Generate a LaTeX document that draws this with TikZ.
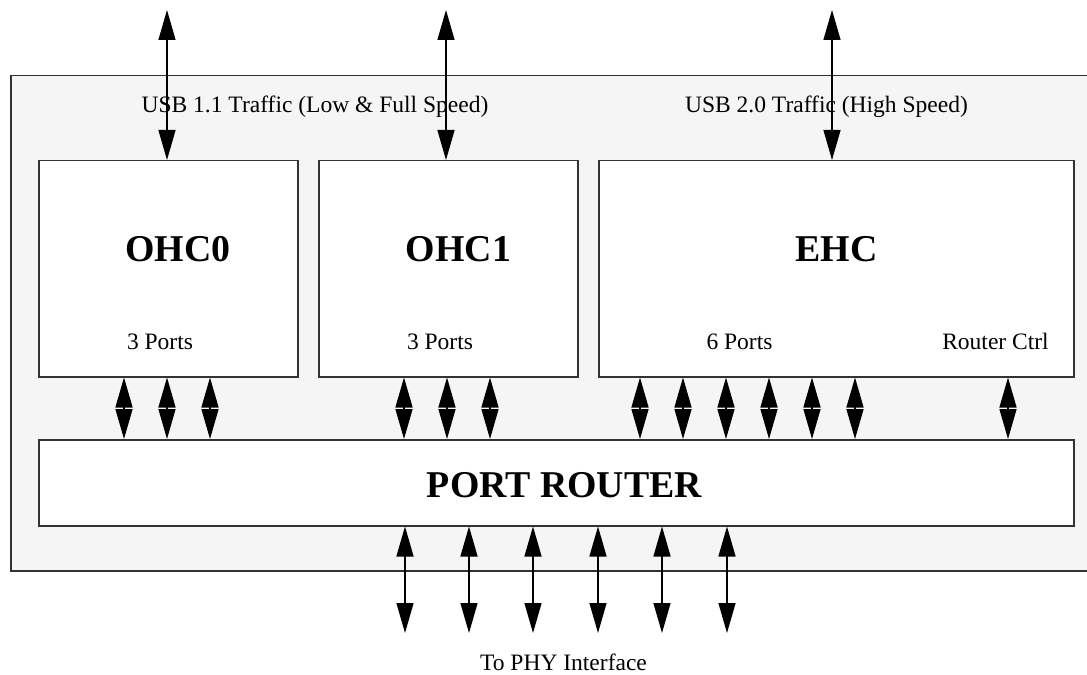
\documentclass[tikz,border=0pt]{standalone}
\usepackage{fontspec}
\setmainfont{Liberation Serif}
\usetikzlibrary{arrows.meta}
\definecolor{boxline}{HTML}{333333}
\definecolor{bgfill}{HTML}{F5F5F5}
\begin{document}
\begin{tikzpicture}[x=1bp,y=-1bp,
  box/.style={draw=boxline,line width=1.5bp,fill=white,anchor=north west,inner sep=0pt},
  lbl/.style={anchor=base,inner sep=0pt,font=\fontsize{23.6}{28}\selectfont},
  ttl/.style={anchor=base,inner sep=0pt,font=\fontsize{38}{44}\selectfont\bfseries},
  dbl/.style={line width=1.3bp,{Triangle[length=30bp,width=17bp]}-{Triangle[length=30bp,width=17bp]}}]
\useasboundingbox (0,0) rectangle (1087,675);
% outer container
\node[box,fill=bgfill,minimum width=1100bp,minimum height=495bp] (outer) at (10,75) {};
% blocks
\node[box,minimum width=259bp,minimum height=216bp] (ohc0) at (38,160) {};
\node[box,minimum width=259bp,minimum height=216bp] (ohc1) at (318,160) {};
\node[box,minimum width=475bp,minimum height=216bp] (ehc) at (598,160) {};
\node[box,minimum width=1035bp,minimum height=86bp] (router) at (38,439) {};
% texts
\node[lbl] (usb11) at (315,113) {USB 1.1 Traffic (Low \& Full Speed)};
\node[lbl] (usb20) at (826.5,113) {USB 2.0 Traffic (High Speed)};
\node[ttl] (t0) at (178,261) {OHC0};
\node[ttl] (t1) at (458.5,261) {OHC1};
\node[ttl] (t2) at (836.5,261) {EHC};
\node[lbl] (p0) at (160,349) {3 Ports};
\node[lbl] (p1) at (440,349) {3 Ports};
\node[lbl] (p2) at (739.5,349) {6 Ports};
\node[lbl] (rc) at (995.5,349) {Router Ctrl};
\node[ttl] (tr) at (564.5,497) {PORT ROUTER};
\node[lbl] (phy) at (563.5,670) {To PHY Interface};
% top connectors
\coordinate (u0) at (167,10);
\coordinate (u1) at (446,10);
\coordinate (u2) at (832,10);
\draw[dbl] (u0) -- (u0 |- ohc0.north);
\draw[dbl] (u1) -- (u1 |- ohc1.north);
\draw[dbl] (u2) -- (u2 |- ehc.north);
% middle connectors
\foreach \x in {124,167,210} \draw[dbl] (\x,0 |- ohc0.south) -- (\x,0 |- router.north);
\foreach \x in {404,447,490} \draw[dbl] (\x,0 |- ohc1.south) -- (\x,0 |- router.north);
\foreach \x in {640,683,726,769,812,855,1008} \draw[dbl] (\x,0 |- ehc.south) -- (\x,0 |- router.north);
% bottom connectors
\foreach \x [count=\i] in {405,469,533,598,662,727} {
  \coordinate (b\i) at (\x,633);
  \draw[dbl] (b\i |- router.south) -- (b\i);
}
\end{tikzpicture}
\end{document}
